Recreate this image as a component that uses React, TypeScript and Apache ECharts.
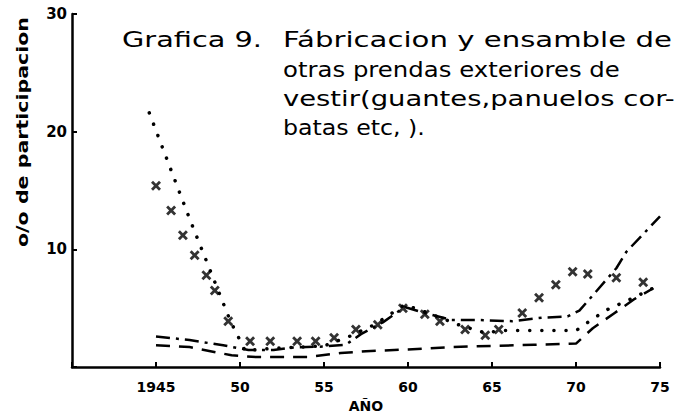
import React, { useEffect, useRef } from 'react';
import * as echarts from 'echarts';

// ---- text ----
const titleLead = 'Grafica 9.';
const titleLines = [
  'Fábricacion y ensamble de',
  'otras prendas exteriores de',
  'vestir(guantes,panuelos cor-',
  'batas etc, ).',
];
const yAxisTitle = 'o/o de participacion';
const xAxisTitle = 'AÑO';

// ---- ticks ----
const xTickValues = [1945, 1950, 1955, 1960, 1965, 1970, 1975];
const xTickLabels = ['1945', '50', '55', '60', '65', '70', '75'];
const yTickValues = [10, 20, 30];
const yTickLabels = ['10', '20', '30'];

// ---- series (year, % participation) ----
const dottedYears = [1944.6, 1947, 1949.4, 1950.3, 1952, 1955, 1956.5, 1958, 1959.8, 1961, 1963, 1964.6, 1965.5, 1970, 1971, 1972, 1973, 1974, 1975];
const dottedValues = [21.6, 12.6, 4.0, 1.4, 1.6, 1.8, 2.6, 3.6, 5.3, 4.7, 3.6, 2.9, 3.1, 3.1, 4.1, 5.0, 5.6, 6.3, 7.0];

const dashDotYears = [1945, 1947, 1949, 1950.5, 1952, 1953, 1955, 1956.3, 1957.2, 1958.5, 1959.8, 1961, 1962.6, 1964.2, 1966.2, 1968, 1969.5, 1970.2, 1971, 1972.4, 1973, 1974, 1975];
const dashDotValues = [2.6, 2.3, 1.85, 1.45, 1.45, 1.65, 1.75, 1.9, 2.8, 3.8, 5.1, 4.6, 4.0, 4.0, 3.9, 4.2, 4.3, 4.8, 6.1, 8.4, 9.8, 11.3, 12.8];

const dashedYears = [1945, 1947, 1949.5, 1951, 1954, 1956, 1957.5, 1960, 1962.5, 1965, 1967.5, 1970, 1971, 1972.3, 1973.5, 1974.6];
const dashedValues = [1.85, 1.7, 1.0, 0.85, 0.85, 1.2, 1.35, 1.5, 1.7, 1.8, 1.9, 2.0, 3.3, 4.6, 5.8, 6.7];

const crossYears = [1945, 1945.9, 1946.6, 1947.3, 1948, 1948.5, 1949.3, 1950.6, 1951.8, 1953.4, 1954.5, 1955.6, 1956.9, 1958.2, 1959.7, 1961, 1961.9, 1963.4, 1964.6, 1965.4, 1966.8, 1967.8, 1968.8, 1969.8, 1970.7, 1972.4, 1974];
const crossValues = [15.4, 13.3, 11.2, 9.5, 7.8, 6.5, 3.9, 2.2, 2.2, 2.2, 2.2, 2.5, 3.2, 3.6, 5.0, 4.5, 3.9, 3.2, 2.7, 3.2, 4.6, 5.9, 7.0, 8.1, 7.9, 7.6, 7.2];

const zip = (xs: number[], ys: number[]) => xs.map((x, i) => [x, ys[i]]);

function measure(text: string, font: string): number {
  const c = document.createElement('canvas').getContext('2d');
  if (!c) return text.length * 10;
  c.font = font;
  return c.measureText(text).width;
}

const CROSS = 'path://M2,0 L5,3 L8,0 L10,2 L7,5 L10,8 L8,10 L5,7 L2,10 L0,8 L3,5 L0,2 Z';

export default function App() {
  const ref = useRef<HTMLDivElement>(null);
  useEffect(() => {
    if (!ref.current) return;
    const chart = echarts.init(ref.current, undefined, { renderer: 'svg' });

    const titleFont = '21px "DejaVu Sans"';
    const lineWidths = [389, 337, 392, 142];
    const leadScale = 140 / measure(titleLead, titleFont);
    const yFont = 'bold 15px "DejaVu Sans"';
    const yScale = 230 / measure(yAxisTitle, yFont);

    const lineYs = [40, 70, 99, 127];
    const graphics: any[] = [
      {
        type: 'text', x: 122, y: lineYs[0], scaleX: leadScale,
        style: { text: titleLead, font: titleFont, fill: '#000', align: 'left', verticalAlign: 'middle' },
      },
      ...titleLines.map((t, i) => ({
        type: 'text', x: 283, y: lineYs[i], scaleX: lineWidths[i] / measure(t, titleFont),
        style: { text: t, font: titleFont, fill: '#000', align: 'left', verticalAlign: 'middle' },
      })),
      {
        type: 'text', x: 23, y: 132, rotation: Math.PI / 2, scaleX: yScale,
        style: { text: yAxisTitle, font: yFont, fill: '#000', align: 'center', verticalAlign: 'middle' },
      },
    ];

    chart.setOption({
      animation: false,
      backgroundColor: '#fff',
      grid: { left: 72, right: 24, top: 14, bottom: 48 },
      xAxis: {
        type: 'value', min: 1940, max: 1975, interval: 5,
        axisLine: { show: true, lineStyle: { color: '#000', width: 2.5 } },
        axisTick: { show: true, inside: true, length: 5, lineStyle: { color: '#000', width: 2 } },
        splitLine: { show: false },
        axisLabel: {
          formatter: (v: number) => { const i = xTickValues.indexOf(v); return i < 0 ? '' : xTickLabels[i]; },
          color: '#000', fontFamily: 'DejaVu Sans', fontWeight: 'bold', fontSize: 14, margin: 13,
        },
        name: xAxisTitle, nameLocation: 'middle', nameGap: 30,
        nameTextStyle: { color: '#000', fontFamily: 'DejaVu Sans', fontWeight: 'bold', fontSize: 14 },
      },
      yAxis: {
        type: 'value', min: 0, max: 30, interval: 10,
        axisLine: { show: true, lineStyle: { color: '#000', width: 2.5 } },
        axisTick: { show: true, inside: true, length: 5, lineStyle: { color: '#000', width: 2 } },
        splitLine: { show: false },
        axisLabel: {
          formatter: (v: number) => { const i = yTickValues.indexOf(v); return i < 0 ? '' : yTickLabels[i]; },
          color: '#000', fontFamily: 'DejaVu Sans', fontWeight: 'bold', fontSize: 15, margin: 5,
        },
      },
      graphic: graphics,
      series: [
        {
          type: 'line', data: zip(dottedYears, dottedValues), showSymbol: false,
          lineStyle: { color: '#000', width: 3.5, type: [0.1, 12], cap: 'round' },
        },
        {
          type: 'line', data: zip(dashDotYears, dashDotValues), showSymbol: false,
          lineStyle: { color: '#000', width: 2.5, type: [14, 6, 3, 6], cap: 'butt' },
        },
        {
          type: 'line', data: zip(dashedYears, dashedValues), showSymbol: false,
          lineStyle: { color: '#000', width: 2.5, type: [14, 9], cap: 'butt' },
        },
        {
          type: 'scatter', data: zip(crossYears, crossValues), symbol: CROSS, symbolSize: 10,
          itemStyle: { color: '#000' },
        },
      ],
    });
    return () => chart.dispose();
  }, []);
  return <div ref={ref} style={{ position: 'fixed', left: 0, top: 0, width: 684, height: 418 }} />;
}
